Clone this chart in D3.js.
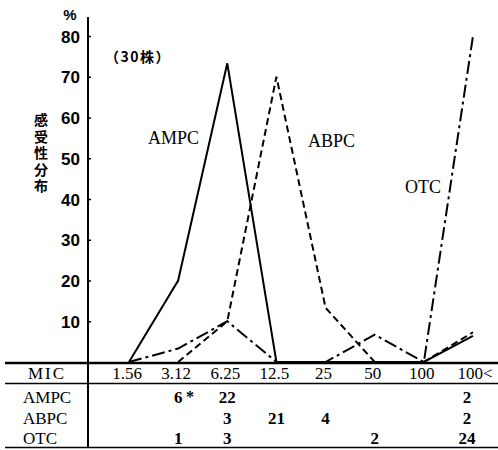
<!DOCTYPE html>
<html><head><meta charset="utf-8">
<script src="https://cdn.jsdelivr.net/npm/d3@7"></script>
<style>body{margin:0;background:#fff}svg{display:block}</style>
</head><body>
<script>
const categories = ["1.56","3.12","6.25","12.5","25","50","100","100<"];
const seriesNames = ["AMPC","ABPC","OTC"];
const pctAMPC = [0, 20, 73.3, 0, 0, 0, 0, 6.4];
const pctABPC = [null, 0, 10, 70, 13.3, 0, 0, 7.3];
const pctOTC  = [0, 3.3, 10, 0, 0, 6.7, 0, 80];
const cntAMPC = ["", "6", "22", "", "", "", "", "2"];
const cntABPC = ["", "", "3", "21", "4", "", "", "2"];
const cntOTC  = ["", "1", "3", "", "", "2", "", "24"];
const yTicks = [10,20,30,40,50,60,70,80];
const yTitle = "感受性分布";

const W = 498, H = 450;
const svg = d3.select("body").append("svg").attr("width", W).attr("height", H);
const x = d3.scalePoint().domain(categories).range([129, 473]);
const y = d3.scaleLinear().domain([0, 80]).range([362, 36]);
const axisX = 88;

const serif = "'Liberation Serif','DejaVu Serif',serif";
const narrow = "'Liberation Sans Narrow','Liberation Sans',Arial,sans-serif";
const cjk = "'Noto Sans CJK JP',sans-serif";

// y axis
const yAxis = d3.axisLeft(y).tickValues(yTicks).tickSize(-3).tickPadding(8).tickFormat(d3.format("d"));
const gy = svg.append("g").attr("transform", `translate(${axisX},0)`).call(yAxis);
gy.select(".domain").remove();
gy.selectAll(".tick line").attr("stroke", "#000").attr("stroke-width", 1.5);
gy.selectAll(".tick text").attr("font-family", narrow).attr("font-weight", "bold").attr("font-size", 17).attr("fill", "#000").attr("dy", "0.36em");
svg.append("line").attr("x1", axisX).attr("x2", axisX).attr("y1", 17).attr("y2", 448).attr("stroke", "#000").attr("stroke-width", 2);
svg.append("text").attr("x", 70).attr("y", 20).attr("text-anchor", "middle").attr("font-family", narrow).attr("font-weight", "bold").attr("font-size", 15).text("%");

// y title vertical
svg.append("text").attr("x", 41).attr("y", 113)
  .attr("font-family", cjk).attr("font-weight", "bold").attr("font-size", 14)
  .style("writing-mode", "vertical-rl").style("letter-spacing", "2.5px")
  .text(yTitle);

svg.append("text").attr("x", 105).attr("y", 62).attr("font-family", cjk).attr("font-weight", "bold").attr("font-size", 14).style("letter-spacing", "1.5px").text("（30株）");

// lines
const line = d3.line().defined(d => d.v !== null).x(d => x(d.c)).y(d => y(d.v));
const series = [
  {name: "AMPC", vals: pctAMPC, dash: null},
  {name: "ABPC", vals: pctABPC, dash: "7,4"},
  {name: "OTC", vals: pctOTC, dash: "13,4,3,4"}
];
series.forEach(s => {
  svg.append("path")
    .datum(categories.map((c, i) => ({c, v: s.vals[i]})))
    .attr("d", line).attr("fill", "none").attr("stroke", "#000").attr("stroke-width", 2)
    .attr("stroke-dasharray", s.dash);
});

// series labels
const lab = [
  {t: "AMPC", x: 148, y: 144},
  {t: "ABPC", x: 308, y: 147},
  {t: "OTC", x: 405, y: 193}
];
svg.append("g").selectAll("text").data(lab).join("text")
  .attr("x", d => d.x).attr("y", d => d.y).attr("font-family", serif).attr("font-size", 18).text(d => d.t);

// table
svg.append("line").attr("x1", 5).attr("x2", W).attr("y1", 363).attr("y2", 363).attr("stroke", "#000").attr("stroke-width", 2.5);
svg.append("line").attr("x1", 5).attr("x2", W).attr("y1", 383.5).attr("y2", 383.5).attr("stroke", "#000").attr("stroke-width", 1.5);
svg.append("line").attr("x1", 5).attr("x2", W).attr("y1", 447.5).attr("y2", 447.5).attr("stroke", "#000").attr("stroke-width", 1.5);

const tf = 17;
svg.append("text").attr("x", 47).attr("y", 379).attr("text-anchor", "middle").attr("font-family", serif).attr("font-size", tf).style("letter-spacing", "2px").text("MIC");
svg.append("g").selectAll("text").data(categories).join("text")
  .attr("x", d => x(d) - (d === "100<" ? -2 : 2)).attr("y", 379).attr("text-anchor", "middle")
  .attr("font-family", serif).attr("font-size", tf).text(d => d);

const rows = [
  {name: "AMPC", cnt: cntAMPC, y: 403},
  {name: "ABPC", cnt: cntABPC, y: 424},
  {name: "OTC", cnt: cntOTC, y: 444}
];
rows.forEach(r => {
  svg.append("text").attr("x", 23).attr("y", r.y).attr("font-family", serif).attr("font-size", tf).text(r.name);
  svg.append("g").selectAll("text").data(categories.map((c, i) => ({c, t: r.cnt[i]})).filter(d => d.t !== "")).join("text")
    .attr("x", d => x(d.c) + (d.c === "100<" ? -6 : 0)).attr("y", r.y).attr("text-anchor", "middle")
    .attr("font-family", serif).attr("font-weight", "bold").attr("font-size", tf).text(d => d.t);
});
svg.append("text").attr("x", 190).attr("y", 402).attr("text-anchor", "middle").attr("font-family", serif).attr("font-weight", "bold").attr("font-size", 16).text("*");
</script>
</body></html>
